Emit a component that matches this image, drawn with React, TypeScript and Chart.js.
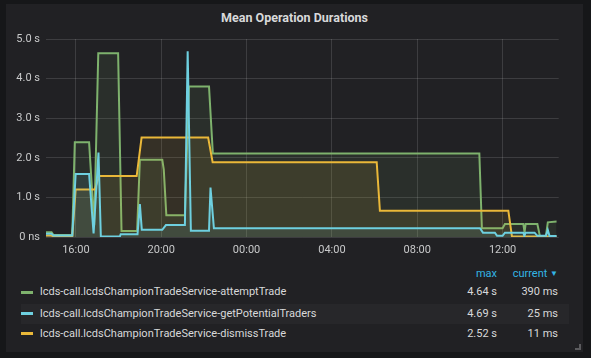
import React, { useEffect, useRef } from "react";
import { Chart, registerables } from "chart.js";

Chart.register(...registerables);

// hours since 00:00 of the first day
const attemptTimes = [14.6, 14.86, 14.95, 15.83, 15.95, 16.62, 16.86, 17.05, 17.98, 18.14, 18.87, 19.0, 20.05, 20.12, 20.24, 21.11, 21.3, 22.24, 22.42, 34.91, 35.03, 36.0, 36.11, 36.97, 37.03, 37.08, 37.63, 37.75, 38.03, 38.12, 38.53];
const attemptValues = [0.12, 0.12, 0.05, 0.05, 2.39, 2.39, 0.3, 4.64, 4.64, 0.15, 0.15, 1.95, 1.95, 1.7, 0.55, 0.55, 3.8, 3.8, 2.11, 2.11, 0.22, 0.22, 0.33, 0.33, 0.12, 0.33, 0.33, 0.02, 0.02, 0.37, 0.39];

const tradersTimes = [14.6, 14.86, 14.95, 15.83, 15.99, 16.62, 16.83, 17.06, 17.17, 18.06, 18.1, 18.89, 19.0, 19.09, 20.05, 20.22, 21.11, 21.24, 21.39, 22.24, 22.31, 22.47, 34.94, 35.08, 35.64, 35.74, 36.0, 36.11, 36.97, 37.02, 37.08, 37.5, 37.63, 38.03, 38.12, 38.2, 38.53];
const tradersValues = [0.08, 0.08, 0.04, 0.04, 1.59, 1.59, 0.09, 2.13, 0.01, 0.01, 0.07, 0.07, 0.83, 0.18, 0.18, 0.3, 0.3, 4.69, 0.16, 0.16, 1.25, 0.22, 0.22, 0.11, 0.11, 0.03, 0.03, 0.11, 0.11, 0.03, 0.11, 0.11, 0.03, 0.03, 0.18, 0.025, 0.025];

const dismissTimes = [14.6, 14.86, 14.95, 15.83, 15.99, 16.89, 17.09, 18.85, 19.08, 22.2, 22.41, 30.1, 30.25, 36.27, 36.44, 38.53];
const dismissValues = [0.04, 0.04, 0.0, 0.0, 1.2, 1.2, 1.54, 1.54, 2.51, 2.51, 1.89, 1.89, 0.66, 0.66, 0.01, 0.011];

const seriesNames = [
  "lcds-call.lcdsChampionTradeService-attemptTrade",
  "lcds-call.lcdsChampionTradeService-getPotentialTraders",
  "lcds-call.lcdsChampionTradeService-dismissTrade",
];
const seriesColors = ["#7eb26d", "#6ed0e0", "#eab839"];
const seriesFills = ["rgba(126,178,109,0.1)", "rgba(110,208,224,0.1)", "rgba(234,184,57,0.1)"];
const maxLabels = ["4.64 s", "4.69 s", "2.52 s"];
const currentLabels = ["390 ms", "25 ms", "11 ms"];

const xTickHours = [16, 20, 24, 28, 32, 36];
const xTickLabels = ["16:00", "20:00", "00:00", "04:00", "08:00", "12:00"];
const yTickValues = [0, 1, 2, 3, 4, 5];
const yTickLabels = ["0 ns", "1.0 s", "2.0 s", "3.0 s", "4.0 s", "5.0 s"];

const X_MIN = 14.6;
const X_MAX = 38.63;

const FONT = "Roboto, 'Helvetica Neue', Arial, sans-serif";

function pts(t: number[], v: number[]) {
  return t.map((x, i) => ({ x, y: v[i] }));
}

export default function App() {
  const ref = useRef<HTMLCanvasElement | null>(null);

  useEffect(() => {
    if (!ref.current) return;
    const data = [
      pts(attemptTimes, attemptValues),
      pts(tradersTimes, tradersValues),
      pts(dismissTimes, dismissValues),
    ];
    const chart = new Chart(ref.current, {
      type: "line",
      data: {
        datasets: data.map((d, i) => ({
          label: seriesNames[i],
          data: d,
          borderColor: seriesColors[i],
          backgroundColor: seriesFills[i],
          borderWidth: 2,
          fill: "origin",
          pointRadius: 0,
          tension: 0,
          order: i === 1 ? 0 : i === 0 ? 2 : 1,
        })),
      },
      options: {
        animation: false,
        responsive: false,
        maintainAspectRatio: false,
        layout: { padding: { left: 0, right: 32.3, top: 39, bottom: 0 } },
        plugins: { legend: { display: false }, tooltip: { enabled: false }, title: { display: false } },
        scales: {
          x: {
            type: "linear",
            min: X_MIN,
            max: X_MAX,
            afterBuildTicks: (s: any) => {
              s.ticks = xTickHours.map((v) => ({ value: v }));
            },
            afterFit: (s: any) => {
              s.height = 28;
            },
            ticks: {
              color: "#c8c9ca",
              font: { family: FONT, size: 11 },
              padding: 7,
              maxRotation: 0,
              autoSkip: false,
              callback: (v: any) => {
                const i = xTickHours.indexOf(Number(v));
                return i >= 0 ? xTickLabels[i] : "";
              },
            },
            grid: { color: "rgba(255,255,255,0.13)", drawTicks: false, lineWidth: 1 },
            border: { display: false },
          },
          y: {
            type: "linear",
            min: 0,
            max: 5,
            afterBuildTicks: (s: any) => {
              s.ticks = yTickValues.map((v) => ({ value: v }));
            },
            afterFit: (s: any) => {
              s.width = 46;
            },
            ticks: {
              color: "#c8c9ca",
              font: { family: FONT, size: 11 },
              padding: 6,
              callback: (v: any) => {
                const i = yTickValues.indexOf(Number(v));
                return i >= 0 ? yTickLabels[i] : "";
              },
            },
            grid: { color: "rgba(255,255,255,0.13)", drawTicks: false, lineWidth: 1 },
            border: { display: false },
          },
        },
      },
    });
    return () => chart.destroy();
  }, []);

  const rowCenters = [292, 313.5, 333.5];
  const fontSize = 11;

  return (
    <div style={{ position: "fixed", left: 0, top: 0, width: 591, height: 358, background: "#161719", overflow: "hidden", fontFamily: FONT }}>
      <div style={{ position: "absolute", left: 6, top: 4, width: 577, height: 348, background: "#212124" }} />
      <div style={{ position: "absolute", left: 6, top: 9, width: 577, height: 18, lineHeight: "18px", textAlign: "center", color: "#d8d9da", fontWeight: "bold", fontSize: 12.5 }}>
        Mean Operation Durations
      </div>
      <canvas ref={ref} width={591} height={265} style={{ position: "absolute", left: 0, top: 0, width: 591, height: 265 }} />
      {/* legend table */}
      <div style={{ position: "absolute", left: 20.5, top: 304, width: 548, height: 20, background: "#27272a" }} />
      <div style={{ position: "absolute", left: 397, top: 266, width: 100, height: 15, lineHeight: "15px", textAlign: "right", color: "#33b5e5", fontSize }}>max</div>
      <div style={{ position: "absolute", left: 458, top: 266, width: 100, height: 15, lineHeight: "15px", textAlign: "right", color: "#33b5e5", fontSize }}>
        current <span style={{ fontSize: 8, verticalAlign: "1px" }}>▼</span>
      </div>
      {seriesNames.map((name, i) => (
        <React.Fragment key={name}>
          <div style={{ position: "absolute", left: 21, top: rowCenters[i] - 1.5, width: 12, height: 3, background: seriesColors[i] }} />
          <div style={{ position: "absolute", left: 40, top: rowCenters[i] - 8, height: 16, lineHeight: "16px", color: "#d8d9da", fontSize, whiteSpace: "nowrap" }}>{name}</div>
          <div style={{ position: "absolute", left: 397, top: rowCenters[i] - 8, width: 100, height: 16, lineHeight: "16px", textAlign: "right", color: "#d8d9da", fontSize }}>{maxLabels[i]}</div>
          <div style={{ position: "absolute", left: 458, top: rowCenters[i] - 8, width: 100, height: 16, lineHeight: "16px", textAlign: "right", color: "#d8d9da", fontSize }}>{currentLabels[i]}</div>
        </React.Fragment>
      ))}
      <div style={{ position: "absolute", left: 575, top: 344, width: 4, height: 4, borderRight: "2px solid #5b5b5e", borderBottom: "2px solid #5b5b5e" }} />
    </div>
  );
}
